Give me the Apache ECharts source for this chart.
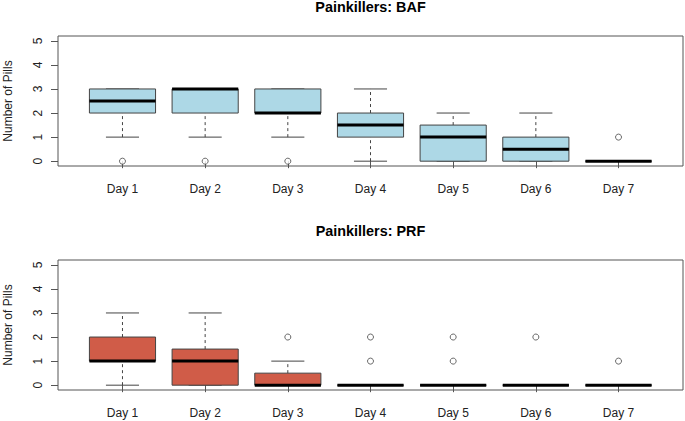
<!DOCTYPE html>
<html>
<head>
<meta charset="utf-8">
<script src="https://cdn.jsdelivr.net/npm/echarts@6/dist/echarts.min.js"></script>
<style>html,body{margin:0;padding:0;background:#fff;}#c{width:685px;height:421px;}</style>
</head>
<body>
<div id="c"></div>
<script>
// ---- data ----
const days = ['Day 1', 'Day 2', 'Day 3', 'Day 4', 'Day 5', 'Day 6', 'Day 7'];
const yTicks = [0, 1, 2, 3, 4, 5];

const bafLow  = [1, 1, 1, 0, 0, 0, 0];
const bafQ1   = [2, 2, 2, 1, 0, 0, 0];
const bafMed  = [2.5, 3, 2, 1.5, 1, 0.5, 0];
const bafQ3   = [3, 3, 3, 2, 1.5, 1, 0];
const bafHigh = [3, 3, 3, 3, 2, 2, 0];
const bafOutliers = [[1, 0], [2, 0], [3, 0], [7, 1]];

const prfLow  = [0, 0, 0, 0, 0, 0, 0];
const prfQ1   = [1, 0, 0, 0, 0, 0, 0];
const prfMed  = [1, 1, 0, 0, 0, 0, 0];
const prfQ3   = [2, 1.5, 0.5, 0, 0, 0, 0];
const prfHigh = [3, 3, 1, 0, 0, 0, 0];
const prfOutliers = [[3, 2], [4, 1], [4, 2], [5, 1], [5, 2], [6, 2], [7, 1]];

const titles = ['Painkillers: BAF', 'Painkillers: PRF'];
const yName = 'Number of Pills';

// ---- build ----
function boxData(low, q1, med, q3, high) {
  return days.map((d, i) => [i + 1, low[i], q1[i], med[i], q3[i], high[i]]);
}
const edge = '#444';
function renderBox(color) {
  return function (params, api) {
    const x = api.value(0);
    const low = api.value(1), q1 = api.value(2), med = api.value(3), q3 = api.value(4), high = api.value(5);
    const half = api.size([0.4, 0])[0];
    const capHalf = api.size([0.2, 0])[0];
    const pLow = api.coord([x, low]);
    const pQ1 = api.coord([x, q1]);
    const pMed = api.coord([x, med]);
    const pQ3 = api.coord([x, q3]);
    const pHigh = api.coord([x, high]);
    const cx = pLow[0];
    const dash = { stroke: edge, lineWidth: 1, lineDash: [3, 3] };
    const solid = { stroke: edge, lineWidth: 1 };
    return {
      type: 'group',
      children: [
        { type: 'line', shape: { x1: cx, y1: pQ3[1], x2: cx, y2: pHigh[1] }, style: dash },
        { type: 'line', shape: { x1: cx, y1: pLow[1], x2: cx, y2: pQ1[1] }, style: dash },
        { type: 'line', shape: { x1: cx - capHalf, y1: pHigh[1], x2: cx + capHalf, y2: pHigh[1] }, style: solid },
        { type: 'line', shape: { x1: cx - capHalf, y1: pLow[1], x2: cx + capHalf, y2: pLow[1] }, style: solid },
        { type: 'rect', shape: { x: cx - half, y: pQ3[1], width: 2 * half, height: pQ1[1] - pQ3[1] },
          style: { fill: color, stroke: edge, lineWidth: 1 } },
        { type: 'line', shape: { x1: cx - half, y1: pMed[1], x2: cx + half, y2: pMed[1] },
          style: { stroke: '#000', lineWidth: 3 } }
      ]
    };
  };
}

const gridTops = [36, 260];
const grids = gridTops.map(t => ({ left: 58, top: t, width: 625, height: 130, show: true,
  containLabel: false, outerBoundsMode: 'none',
  borderColor: '#555', borderWidth: 1, backgroundColor: 'transparent' }));

const xAxes = gridTops.map((t, i) => ({
  type: 'value', gridIndex: i, min: 0.22, max: 7.78,
  axisLine: { show: false }, splitLine: { show: false },
  axisTick: { show: true, length: 7, lineStyle: { color: '#555' }, customValues: days.map((d, k) => k + 1) },
  axisLabel: { show: true, margin: 17, fontSize: 12, color: '#222', fontFamily: 'Liberation Sans',
    customValues: days.map((d, k) => k + 1), formatter: v => days[Math.round(v) - 1] || '' }
}));
const yAxes = gridTops.map((t, i) => ({
  type: 'value', gridIndex: i, min: -0.2, max: 5.2,
  name: yName, nameLocation: 'middle', nameGap: 44, nameRotate: 90,
  nameTextStyle: { fontSize: 12, color: '#222', fontFamily: 'Liberation Sans' },
  axisLine: { show: false }, splitLine: { show: false },
  axisTick: { show: true, length: 7, lineStyle: { color: '#555' }, customValues: yTicks },
  axisLabel: { show: true, rotate: 90, margin: 14, fontSize: 12, color: '#222', fontFamily: 'Liberation Sans',
    customValues: yTicks }
}));

const option = {
  animation: false,
  grid: grids,
  xAxis: xAxes,
  yAxis: yAxes,
  graphic: titles.map((txt, i) => ({
    type: 'text', x: 370.5, y: gridTops[i] - 29,
    style: { text: txt, x: 0, y: 0, textAlign: 'center', textVerticalAlign: 'middle',
      fontSize: 14.4, fontWeight: 'bold', fill: '#000', fontFamily: 'Liberation Sans' }
  })),
  series: [
    { type: 'custom', xAxisIndex: 0, yAxisIndex: 0, renderItem: renderBox('#ADD8E6'),
      encode: { x: 0, y: [1, 2, 3, 4, 5] }, data: boxData(bafLow, bafQ1, bafMed, bafQ3, bafHigh) },
    { type: 'custom', xAxisIndex: 1, yAxisIndex: 1, renderItem: renderBox('#D05C48'),
      encode: { x: 0, y: [1, 2, 3, 4, 5] }, data: boxData(prfLow, prfQ1, prfMed, prfQ3, prfHigh) },
    { type: 'scatter', xAxisIndex: 0, yAxisIndex: 0, symbol: 'circle', symbolSize: 6,
      itemStyle: { color: '#fff', borderColor: edge, borderWidth: 1 }, data: bafOutliers },
    { type: 'scatter', xAxisIndex: 1, yAxisIndex: 1, symbol: 'circle', symbolSize: 6,
      itemStyle: { color: '#fff', borderColor: edge, borderWidth: 1 }, data: prfOutliers }
  ]
};
const chart = echarts.init(document.getElementById('c'), null, { renderer: 'svg' });
chart.setOption(option);
</script>
</body>
</html>
